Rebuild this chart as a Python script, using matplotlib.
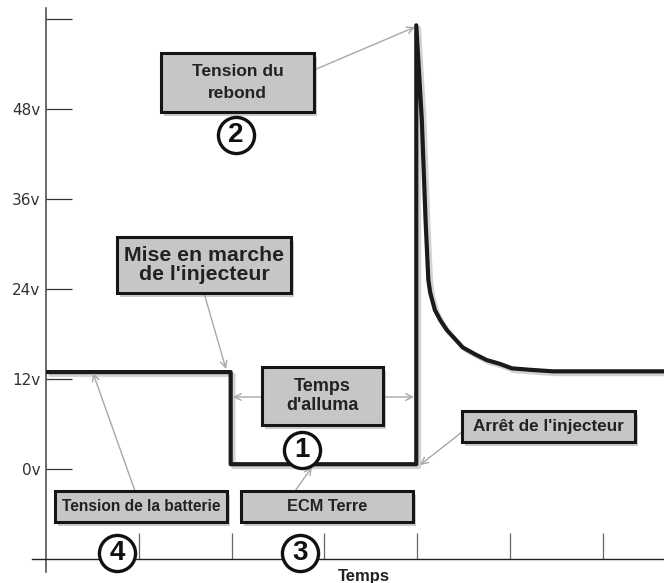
import matplotlib
matplotlib.use("Agg")
import matplotlib.pyplot as plt
from matplotlib.patches import Rectangle
import matplotlib.patheffects as pe

# ---- data ----
time_units = [0.0, 1.99, 1.99, 3.99, 3.99, 4.05, 4.09, 4.12, 4.14, 4.19, 4.25, 4.32,
              4.49, 4.62, 4.75, 4.89, 5.02, 5.22, 5.46, 6.70]
voltage = [12.9, 12.9, 0.6, 0.6, 59.2, 46.5, 33.2, 25.2, 23.5, 21.2, 19.8, 18.5,
           16.2, 15.3, 14.5, 14.0, 13.4, 13.2, 13.0, 13.0]
ytick_values = [0, 12, 24, 36, 48, 60]
ytick_labels = ["0v", "12v", "24v", "36v", "48v", ""]
xtick_values = [1, 2, 3, 4, 5, 6]
x_label = "Temps"

# ---- figure ----
W, H = 664, 583
fig = plt.figure(figsize=(W / 100, H / 100), dpi=100)
ax = fig.add_axes([0, 0, 1, 1])
X0, XS = 46.0, 92.8      # pixel of x=0, pixels per time unit
Y0, YS = 468.7, 7.49     # pixel of 0v, pixels per volt
ax.set_xlim(-X0 / XS, (W - X0) / XS)
ax.set_ylim((Y0 - H) / YS, Y0 / YS)
ax.set_facecolor("white")


def P(px, py):
    return ((px - X0) / XS, (Y0 - py) / YS)


# axes lines as spines
for s in ["top", "right"]:
    ax.spines[s].set_visible(False)
ax.spines["left"].set_position(("data", 0))
ax.spines["bottom"].set_position(("data", P(0, 558.5)[1]))
ax.spines["left"].set_bounds(P(0, 572)[1], P(0, 8)[1])
ax.spines["bottom"].set_bounds(P(32, 0)[0], P(W, 0)[0])
ax.spines["left"].set_color("#444444")
ax.spines["left"].set_linewidth(1.1)
ax.spines["bottom"].set_color("#222222")
ax.spines["bottom"].set_linewidth(1.0)

ax.set_yticks(ytick_values)
ax.set_yticklabels(ytick_labels)
ax.set_xticks(xtick_values)
ax.set_xticklabels([])
ax.tick_params(axis="y", direction="in", length=19, width=0.9, color="#333333",
               labelsize=11, labelcolor="#333333", pad=4)
ax.tick_params(axis="x", direction="in", length=19, width=0.9, color="#666666")

# signal line
ax.plot(time_units, voltage, color="#1a1a1a", lw=3.0, solid_joinstyle="round",
        solid_capstyle="butt", zorder=4,
        path_effects=[pe.SimpleLineShadow(offset=(2, -2), shadow_color="gray", alpha=0.35),
                      pe.Normal()])

# boxes: (left, top, right, bottom) in pixels, text, fontsize, linespacing
boxes = [
    (161, 53, 314, 112, "Tension du\nrebond", 12.5, 1.55),
    (117, 237, 291, 293, "Mise en marche\nde l'injecteur", 15.3, 1.05),
    (262, 367, 383, 425, "Temps\nd'alluma", 13.0, 1.1),
    (462, 411, 635, 442, "Arrêt de l'injecteur", 12.3, 1.0),
    (55, 491, 227, 522, "Tension de la batterie", 11.2, 1.0),
    (241, 491, 413, 522, "ECM Terre", 11.8, 1.0),
]
for l, t, r, b, txt, fs, ls in boxes:
    x0, y1 = P(l, t)
    x1, y0 = P(r, b)
    rect = Rectangle((x0, y0), x1 - x0, y1 - y0, facecolor="#c6c6c6", edgecolor="#151515",
                     lw=2.2, zorder=6,
                     path_effects=[pe.withSimplePatchShadow(offset=(2, -3), shadow_rgbFace="#999999", alpha=0.5)])
    ax.add_patch(rect)
    ax.text((x0 + x1) / 2, (y0 + y1) / 2, txt, ha="center", va="center", fontsize=fs,
            fontweight="bold", family="Liberation Sans", color="#222222", linespacing=ls, zorder=7)

# arrows: (tail px, head px)
arrows = [
    ((314, 70), (415, 27)),
    ((204, 293), (226, 369)),
    ((262, 397), (233, 397)),
    ((383, 397), (414, 397)),
    ((462, 432), (420, 465)),
    ((135, 491), (93, 373)),
    ((295, 491), (312, 467)),
]
for tail, head in arrows:
    ax.annotate("", xy=P(*head), xytext=P(*tail),
                arrowprops=dict(arrowstyle="->", color="#a8a8a8", lw=1.0, mutation_scale=12,
                                shrinkA=0, shrinkB=0), zorder=5)

# circled numbers
circles = [(236, 135, "2"), (302, 450, "1"), (117, 553, "4"), (300, 553, "3")]
for cx, cy, n in circles:
    x, y = P(cx, cy)
    ax.plot([x], [y], "o", ms=26, mfc="white", mec="#111111", mew=2.4, zorder=8)
    ax.text(x, y, n, ha="center", va="center", fontsize=20, fontweight="bold",
            family="Liberation Sans", color="#111111", zorder=9)

# x axis label
ax.text(*P(364, 576), x_label, ha="center", va="center", fontsize=12, fontweight="bold",
        family="Liberation Sans", color="#222222")

fig.savefig("out.png", dpi=100)
